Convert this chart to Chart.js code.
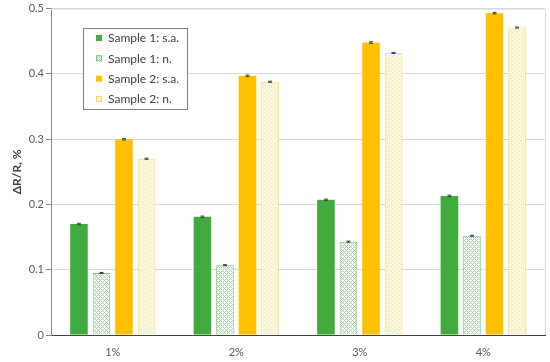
<!DOCTYPE html>
<html>
<head>
<meta charset="utf-8">
<script src="https://cdn.jsdelivr.net/npm/chart.js@4"></script>
<style>
  body { margin: 0; background: #fff; }
  #wrap { width: 550px; height: 362px; position: relative; }
</style>
</head>
<body>
<div id="wrap"><canvas id="myChart"></canvas></div>
<script>
// data
const categories = ['1%', '2%', '3%', '4%'];
const seriesNames = ['Sample 1: s.a.', 'Sample 1: n.', 'Sample 2: s.a.', 'Sample 2: n.'];
const sample1SA = [0.170, 0.181, 0.207, 0.213];
const sample1N = [0.095, 0.107, 0.143, 0.152];
const sample2SA = [0.300, 0.397, 0.448, 0.493];
const sample2N = [0.270, 0.388, 0.432, 0.471];
const errSample1SA = [0.0012, 0.0012, 0.0012, 0.0012];
const errSample1N = [0.0008, 0.0008, 0.0008, 0.0008];
const errSample2SA = [0.0012, 0.0012, 0.0012, 0.0012];
const errSample2N = [0.0008, 0.0008, 0.0008, 0.0008];
const yTicks = [0, 0.1, 0.2, 0.3, 0.4, 0.5];

const GREEN = '#41ab3d';
const YELLOW = '#ffc000';

// small lattice pattern for the "n." bars
function makePattern(color) {
    const c = document.createElement('canvas');
    c.width = 4; c.height = 4;
    const g = c.getContext('2d');
    g.fillStyle = '#ffffff';
    g.fillRect(0, 0, 4, 4);
    g.fillStyle = color;
    for (let x = 0; x < 4; x++) {
        for (let y = 0; y < 4; y++) {
            if ((x + y) % 4 === 0 || (x - y + 4) % 4 === 0) g.fillRect(x, y, 1, 1);
        }
    }
    return g.createPattern(c, 'repeat');
}

const greenPattern = makePattern('#a3d6a0');
const yellowPattern = makePattern('#ffe594');

const errors = [errSample1SA, errSample1N, errSample2SA, errSample2N];

const errorBars = {
    id: 'errorBars',
    afterDatasetsDraw(chart) {
        const ctx = chart.ctx;
        const y = chart.scales.y;
        ctx.save();
        ctx.strokeStyle = '#404040';
        ctx.lineWidth = 1;
        chart.data.datasets.forEach((ds, i) => {
            const meta = chart.getDatasetMeta(i);
            meta.data.forEach((bar, j) => {
                const v = ds.data[j];
                const e = errors[i][j];
                const top = y.getPixelForValue(v + e);
                const bot = y.getPixelForValue(v - e);
                ctx.beginPath();
                ctx.moveTo(bar.x, top); ctx.lineTo(bar.x, bot);
                ctx.moveTo(bar.x - 2, top); ctx.lineTo(bar.x + 2, top);
                ctx.moveTo(bar.x - 2, bot); ctx.lineTo(bar.x + 2, bot);
                ctx.stroke();
            });
        });
        ctx.restore();
    }
};

const frameAndLegend = {
    id: 'frameAndLegend',
    beforeDatasetsDraw(chart) {
        const a = chart.chartArea;
        const ctx = chart.ctx;
        ctx.save();
        ctx.strokeStyle = '#d9d9d9';
        ctx.lineWidth = 1;
        ctx.beginPath();
        ctx.moveTo(a.left, a.top + 0.5);
        ctx.lineTo(a.right + 0.5, a.top + 0.5);
        ctx.lineTo(a.right + 0.5, a.bottom);
        ctx.stroke();
        ctx.restore();
    },
    afterDraw(chart) {
        const ctx = chart.ctx;
        ctx.save();
        ctx.fillStyle = '#ffffff';
        ctx.fillRect(83, 28, 104, 81);
        ctx.strokeStyle = '#7f7f7f';
        ctx.lineWidth = 1;
        ctx.strokeRect(83.5, 28.5, 104, 81);
        ctx.font = '12px Lato, "Open Sans", sans-serif';
        ctx.textBaseline = 'middle';
        chart.data.datasets.forEach((ds, i) => {
            const cy = 38 + i * 20.3;
            ctx.fillStyle = ds.backgroundColor;
            ctx.fillRect(96, cy - 3, 6, 6);
            ctx.strokeStyle = ds.borderColor;
            if (ds.borderWidth) ctx.strokeRect(96.5, cy - 2.5, 5, 5);
            ctx.fillStyle = '#404040';
            ctx.fillText(ds.label, 108, cy + 0.5);
        });
        ctx.restore();
    }
};

const ctx = document.getElementById('myChart').getContext('2d');
const myChart = new Chart(ctx, {
    type: 'bar',
    data: {
        labels: categories,
        datasets: [
            { label: seriesNames[0], data: sample1SA, backgroundColor: GREEN, borderColor: GREEN, borderWidth: 0 },
            { label: seriesNames[1], data: sample1N, backgroundColor: greenPattern, borderColor: '#7cc279', borderWidth: 1 },
            { label: seriesNames[2], data: sample2SA, backgroundColor: YELLOW, borderColor: YELLOW, borderWidth: 0 },
            { label: seriesNames[3], data: sample2N, backgroundColor: yellowPattern, borderColor: '#ffd95c', borderWidth: 1 }
        ]
    },
    options: {
        responsive: true,
        maintainAspectRatio: false,
        animation: false,
        categoryPercentage: 0.73,
        barPercentage: 0.78,
        layout: { padding: { top: 8, right: 5, left: 0, bottom: 0 } },
        plugins: {
            legend: { display: false },
            tooltip: { enabled: false }
        },
        scales: {
            x: {
                grid: { display: false, drawTicks: false },
                border: { display: true, color: '#404040', width: 1 },
                ticks: { color: '#595959', padding: 11, font: { family: 'Lato', size: 11 } },
                afterFit(scale) { scale.height = 27; }
            },
            y: {
                min: 0,
                max: 0.5,
                afterBuildTicks(scale) { scale.ticks = yTicks.map(v => ({ value: v })); },
                grid: { color: '#d9d9d9', tickColor: '#868686', tickLength: 5 },
                border: { display: true, color: '#868686', width: 1 },
                ticks: {
                    color: '#595959',
                    padding: 2,
                    font: { family: 'Lato', size: 11 },
                    callback: (v) => String(Math.round(v * 10) / 10)
                },
                title: {
                    display: true,
                    text: 'ΔR/R, %',
                    color: '#404040',
                    font: { family: 'Lato', size: 12, weight: 'bold' },
                    padding: { top: 10, bottom: 0 }
                },
                afterFit(scale) { scale.width = 51; }
            }
        }
    },
    plugins: [errorBars, frameAndLegend]
});
</script>
</body>
</html>
